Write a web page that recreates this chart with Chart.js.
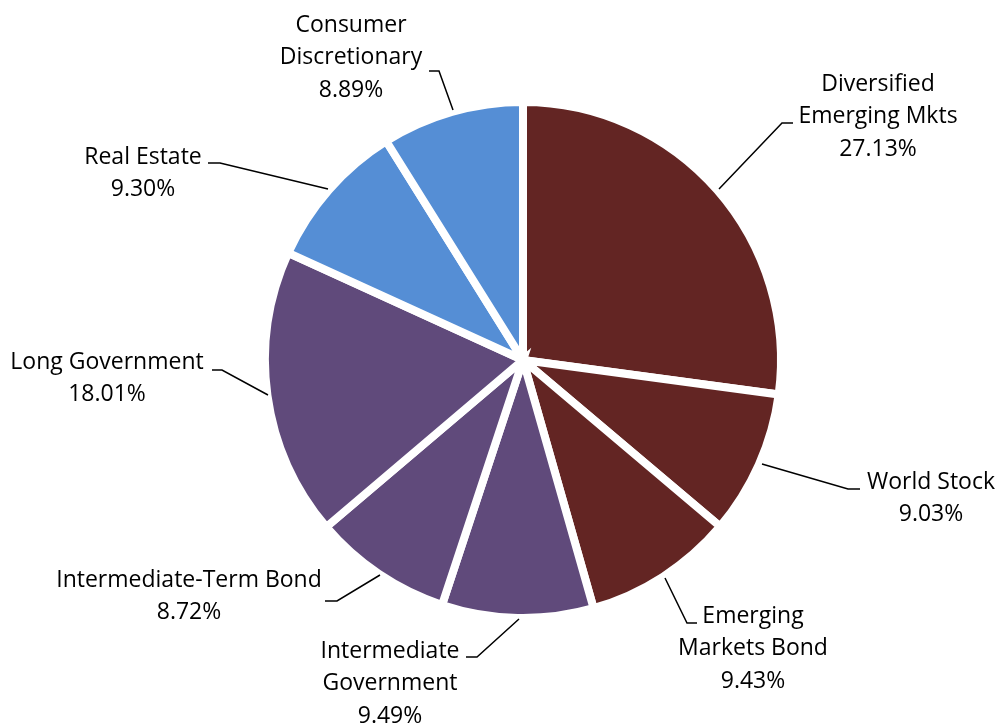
<!DOCTYPE html>
<html>
<head>
<meta charset="utf-8">
<script src="https://cdn.jsdelivr.net/npm/chart.js@4/dist/chart.umd.min.js"></script>
<style>
  html, body { margin: 0; padding: 0; background: #fff; }
  #wrap { width: 998px; height: 723px; position: relative; }
</style>
</head>
<body>
<div id="wrap"><canvas id="pie"></canvas></div>
<script>
// Chart data
const categories = [
    "Diversified Emerging Mkts",
    "World Stock",
    "Emerging Markets Bond",
    "Intermediate Government",
    "Intermediate-Term Bond",
    "Long Government",
    "Real Estate",
    "Consumer Discretionary"
];
const shares = [27.13, 9.03, 9.43, 9.49, 8.72, 18.01, 9.30, 8.89];
const sliceColors = ["#632523", "#632523", "#632523", "#604A7B", "#604A7B", "#604A7B", "#558ED5", "#558ED5"];

// How each label is wrapped in the picture
const labelLines = [
    ["Diversified", "Emerging Mkts"],
    ["World Stock"],
    ["Emerging", "Markets Bond"],
    ["Intermediate", "Government"],
    ["Intermediate-Term Bond"],
    ["Long Government"],
    ["Real Estate"],
    ["Consumer", "Discretionary"]
];

// Label placement: text centre x, first line y, leader line (end, elbow, start on pie)
const labelLayout = [
    { x: 878, y: 84,  lead: [[793, 123], [782, 123], [719, 189]] },
    { x: 931, y: 482, lead: [[860, 489], [848, 489], [762, 464]] },
    { x: 753, y: 616, lead: [[697, 623], [687, 623], [665, 578]] },
    { x: 390, y: 651, lead: [[466, 657], [477, 657], [519, 619]] },
    { x: 189, y: 580, lead: [[325, 601], [337, 601], [380, 575]] },
    { x: 107, y: 362, lead: [[212, 370], [222, 370], [268, 395]] },
    { x: 143, y: 157, lead: [[208, 163], [220, 163], [328, 189]] },
    { x: 351, y: 25,  lead: [[429, 71], [439, 71], [453, 110]] }
];

// Draw the outside labels with their leader lines
const outsideLabels = {
    id: "outsideLabels",
    afterDatasetsDraw(chart) {
        const ctx = chart.ctx;
        const values = chart.data.datasets[0].data;
        ctx.save();
        ctx.strokeStyle = "#000";
        ctx.lineWidth = 1.5;
        ctx.lineJoin = "miter";
        labelLayout.forEach(item => {
            ctx.beginPath();
            item.lead.forEach((p, i) => i === 0 ? ctx.moveTo(p[0], p[1]) : ctx.lineTo(p[0], p[1]));
            ctx.stroke();
        });
        ctx.fillStyle = "#000";
        ctx.font = "23px 'Open Sans'";
        ctx.textAlign = "center";
        ctx.textBaseline = "middle";
        labelLayout.forEach((item, i) => {
            const lines = [...labelLines[i], values[i].toFixed(2) + "%"];
            lines.forEach((line, j) => {
                ctx.fillText(line, item.x, item.y + j * 32.5);
            });
        });
        ctx.restore();
    }
};

const ctx = document.getElementById("pie").getContext("2d");
new Chart(ctx, {
    type: "pie",
    data: {
        labels: categories,
        datasets: [{
            data: shares,
            backgroundColor: sliceColors,
            borderColor: "#ffffff",
            borderWidth: 8,
            borderJoinStyle: "miter",
            hoverOffset: 0
        }]
    },
    options: {
        responsive: true,
        maintainAspectRatio: false,
        animation: false,
        layout: {
            padding: { top: 98, bottom: 101, left: 261, right: 213 }
        },
        plugins: {
            legend: { display: false },
            tooltip: { enabled: false }
        }
    },
    plugins: [outsideLabels]
});
</script>
</body>
</html>
